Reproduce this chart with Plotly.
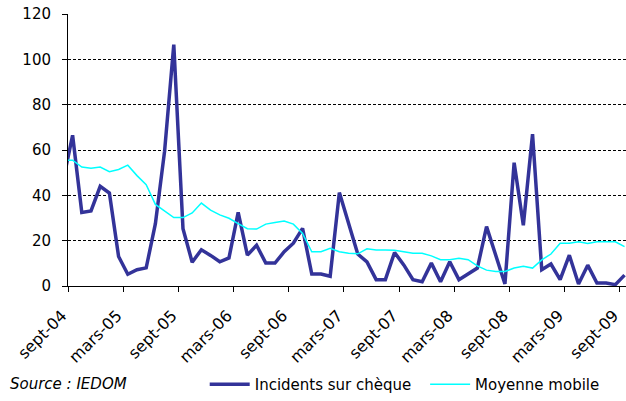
import numpy as np
import pandas as pd
import plotly.graph_objects as go

# Monthly series, August 2004 to September 2009
months = pd.period_range("2004-08", "2009-09", freq="M")

incidents = [
    47, 66.5, 32.4, 33.1, 44, 41, 13, 5.2, 7.2, 8, 27.5, 59.5, 106.5,
    25.3, 10.5, 16, 13.5, 10.7, 12.4, 32.5, 13.6, 18, 10.1, 10.1, 15.1,
    18.9, 25.4, 5.3, 5.3, 4.3, 41.2, 27.5, 14.1, 10.6, 2.8, 2.8, 14.8,
    9.3, 2.8, 1.9, 10.1, 1.9, 10.7, 2.8, 5.3, 7.9, 26.2, 13.3, 0.9,
    54.4, 26.8, 67, 7.2, 9.7, 2.8, 13.6, 0.9, 9.2, 1.3, 1.3, 0.6, 4.8,
]

moyenne_mobile = [
    55.5, 55.5, 52.5, 51.9, 52.5, 50.4, 51.4, 53.3, 48.7, 44.7, 36, 33,
    30.2, 30.2, 32.2, 36.6, 33.5, 31.4, 29.9, 27.5, 25.3, 25.1, 27.3, 28,
    28.7, 27.3, 23.2, 15.1, 15.1, 16.6, 15.1, 14.4, 14.2, 16.4, 15.9, 15.9,
    15.8, 15.1, 14.4, 14.4, 13.3, 11.6, 11.6, 12.2, 11.6, 8.9, 7, 6.4,
    6.4, 7.9, 8.7, 7.9, 11.5, 14.1, 18.9, 18.9, 19.5, 18.8, 19.5, 19.5,
    19.5, 17.4,
]

tick_labels = [
    "sept-04", "mars-05", "sept-05", "mars-06", "sept-06", "mars-07",
    "sept-07", "mars-08", "sept-08", "mars-09", "sept-09",
]

# Category-style axis: month n occupies [n, n+1], with September 2004 as n = 0
start = pd.Period("2004-09", freq="M")
offset = np.array([(m - start).n for m in months])
x = offset + 0.5
tick_vals = [6 * i for i in range(len(tick_labels))]

FONT = "DejaVu Sans"

fig = go.Figure()
fig.add_trace(go.Scatter(
    x=x, y=incidents, mode="lines", name="Incidents sur chèque",
    line=dict(color="#333399", width=3.5), legend="legend",
))
fig.add_trace(go.Scatter(
    x=x, y=moyenne_mobile, mode="lines", name="Moyenne mobile",
    line=dict(color="#00FFFF", width=1.5), legend="legend2",
))

legend_style = dict(
    orientation="h", xanchor="left", y=-0.36, yanchor="middle",
    font=dict(family=FONT, size=15), itemwidth=40,
    bgcolor="rgba(0,0,0,0)",
)

fig.update_layout(
    width=626, height=401,
    margin=dict(l=68, r=0, t=14, b=114),
    paper_bgcolor="white", plot_bgcolor="white",
    font=dict(family=FONT, size=15, color="#000000"),
    showlegend=True,
    legend=dict(x=0.245, **legend_style),
    legend2=dict(x=0.64, **legend_style),
)

fig.update_xaxes(
    range=[0, 60.66], tickmode="array", tickvals=tick_vals, ticktext=tick_labels,
    tickangle=-45, ticks="outside", ticklen=5, tickcolor="#000000",
    ticklabeloverflow="allow", ticklabelstandoff=8, ticklabelshift=-6,
    automargin=False,
    showline=True, linecolor="#000000", linewidth=1,
    showgrid=False, zeroline=False,
    tickfont=dict(family=FONT, size=16),
)
fig.update_yaxes(
    range=[0, 120], dtick=20, ticks="outside", ticklen=5, tickcolor="#000000",
    showline=True, linecolor="#000000", linewidth=1, automargin=False,
    showgrid=True, gridcolor="#000000", gridwidth=1, griddash="3px,2px",
    zeroline=False, ticklabelstandoff=8,
    tickfont=dict(family=FONT, size=15),
)

fig.add_annotation(
    text="<i>Source : IEDOM</i>", xref="paper", yref="paper",
    x=-0.108, xanchor="left", y=-0.36, yanchor="middle",
    showarrow=False, font=dict(family=FONT, size=15),
)

fig.write_html("out.html")
